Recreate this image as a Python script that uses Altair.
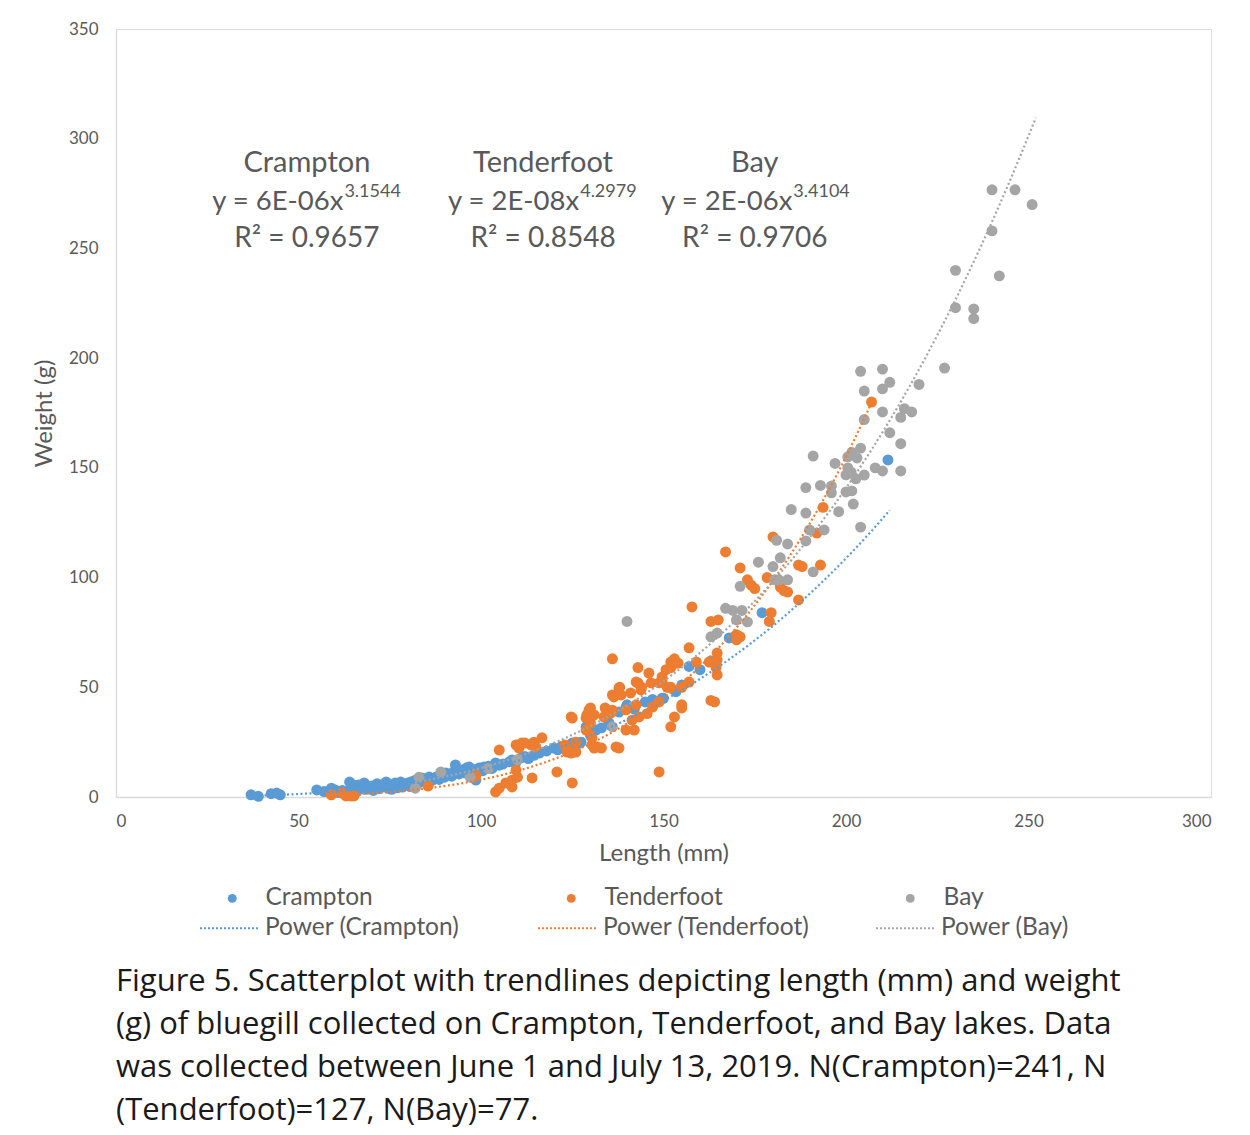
import altair as alt
import pandas as pd
import numpy as np

lakes = ["Crampton", "Tenderfoot", "Bay"]
colors = ["#5B9BD5", "#ED7D31", "#A5A5A5"]
trend_names = ["Power (Crampton)", "Power (Tenderfoot)", "Power (Bay)"]

# Crampton (length mm, weight g)
cr_len = [37, 39, 42.5, 44, 45, 55, 57, 59, 60, 61, 62, 63, 64, 64.5, 65, 65.5, 66, 66.5, 67, 68,
          68.5, 69, 70, 70.5, 71, 71.5, 72, 72.5, 73, 74, 74.5, 75, 75.5, 76, 76.5, 77, 77.5, 78,
          78.5, 79, 80, 80.5, 81, 81.5, 82, 82.5, 83, 83.8, 84.5, 85, 85.8, 86.5, 87, 87.7, 88.5,
          89, 90, 90.4, 91, 92, 92.5, 93, 93.5, 94, 94.8, 95.5, 96, 96.7, 97.5, 98, 98.6, 98.9,
          99.5, 100.5, 100.8, 101.4, 102, 103, 104, 105, 106, 107.7, 108.5, 109.5, 111, 112, 113,
          114.5, 116, 118, 120, 121, 122, 125, 127, 127.4, 128.8, 129, 130, 131.5, 133, 135, 137.8,
          139.7, 140, 142, 145, 147, 149.6, 150, 153.4, 155, 157, 160, 163, 168, 177, 211.5]
cr_wt = [1.0, 0.3, 1.5, 1.8, 1.0, 3.2, 2.5, 4.0, 3.2, 2.0, 3.0, 2.2, 6.8, 4.0, 5.5, 3.0, 2.5, 5.5, 4.0, 6.4,
         3.5, 4.6, 5.0, 3.0, 4.6, 6.0, 3.8, 5.5, 4.5, 6.8, 4.0, 5.5, 3.5, 5.0, 6.4, 4.2, 6.0, 6.8,
         4.5, 5.5, 6.4, 4.8, 7.0, 5.5, 7.7, 6.0, 6.5, 8.7, 7.0, 8.0, 9.1, 7.5, 8.5, 9.1, 8.0,
         9.5, 9.0, 10.9, 10.0, 9.5, 11.5, 14.6, 12.0, 10.5, 12.3, 11.0, 13.2, 13.7, 11.5, 12.5, 7.7, 11.4,
         13.2, 12.0, 13.7, 13.2, 14.0, 13.0, 15.5, 14.5, 15.0, 16.0, 16.9, 15.5, 17.8, 18.5, 17.5,
         19.0, 20.0, 21.0, 22.3, 21.5, 23.0, 24.6, 24.6, 25.0, 32.0, 30.5, 29.6, 30.5, 31.5, 34.0, 38.7,
         40.6, 42.0, 40.0, 43.3, 44.5, 45.0, 45.0, 48.0, 51.0, 59.5, 58.0, 62.0, 72.5, 84.0, 153.6]

# Tenderfoot
te_len = [59, 62, 63, 64.4, 65.2, 85.5, 98.6, 98, 104, 105, 106.8, 108.5, 108.5, 110, 109.6, 114, 120.8, 125,
          105, 109.6, 110.4, 111.2, 112, 113.7, 114.5, 115, 116.7, 123, 123.3, 123.6, 124.7, 126, 126, 125, 124.7,
          128.8, 129, 129.6, 130, 131, 130, 128.8, 130, 130.4, 130.4, 131.8, 133, 131,
          134, 135.6, 133.7, 137, 137.8, 136, 136, 137.8, 138.4, 138, 136.4, 136,
          139.7, 141.4, 143.3, 139.7, 142, 141, 142.5, 142.5, 143, 143, 143.8, 144, 145.5, 146, 146.6, 147,
          148.8, 148.8, 149.6, 148.8, 149.6, 150.7, 151, 152, 152, 152, 152, 153, 153, 154, 155, 155, 155,
          157, 157, 157.8, 159, 162.5, 163, 164, 164.4, 164.7, 164.7, 164.7, 163, 165, 167, 170, 171, 170,
          171, 173, 174, 175, 178.4, 179.5, 179, 180, 182, 183, 184, 187, 188, 187, 192, 193, 193.7, 207]
te_wt = [1.0, 1.8, 0.5, 0.5, 0.5, 5.0, 10.0, 9.0, 2.3, 4.0, 6.4, 4.6, 7.7, 9.0, 12.3, 8.7, 11.4, 6.4,
         21.4, 23.7, 22.3, 24.6, 24.6, 23.7, 25.0, 22.8, 27.0, 23.7, 22.8, 20.5, 20.0, 20.5, 25.0, 36.0, 36.5,
         36.0, 37.4, 39.7, 40.6, 37.4, 33.7, 30.5, 28.0, 27.0, 23.7, 22.8, 22.3, 22.3,
         40.6, 38.3, 36.5, 22.8, 22.3, 63.0, 46.5, 49.7, 46.5, 50.0, 45.6, 39.6,
         39.7, 35.0, 36.5, 30.5, 30.5, 47.4, 42.0, 52.4, 52.0, 59.0, 48.8, 50.0, 38.0, 56.5, 52.0, 41.0,
         43.3, 52.0, 54.7, 11.4, 53.0, 58.0, 50.0, 50.0, 61.5, 59.0, 32.0, 63.0, 36.5, 61.0, 42.0, 40.6, 50.0,
         52.4, 68.0, 86.6, 61.5, 61.5, 44.0, 43.3, 59.0, 55.6, 62.4, 65.6, 80.0, 80.7, 111.7, 74.0, 73.0, 71.6,
         104.4, 99.0, 96.6, 95.0, 100.0, 84.0, 80.0, 118.5, 95.7, 94.0, 93.4, 105.7, 105.0, 89.8, 120.3, 105.7, 132.0, 180.0]

# Bay
ba_len = [82, 83, 89, 97, 102, 110, 136, 140, 163, 164.7, 167, 169, 171.5, 170, 173, 171,
          176, 180, 182, 180.5, 181.6, 184, 181, 184, 189, 190, 194, 191,
          185, 189, 198, 204, 202, 189, 193, 196, 196, 200, 201.6,
          191, 197, 200.5, 203, 200.5, 201.4, 200, 205, 202.7, 204, 201.6,
          208, 210, 215, 212, 215, 205, 210, 216, 218, 215,
          204, 210, 212, 210, 205, 220, 227, 230, 230, 235, 235, 242, 240, 240, 246.3, 251]
ba_wt = [4.0, 9.0, 11.4, 9.0, 13.0, 17.0, 32.0, 80.0, 73.0, 74.7, 86.0, 85.0, 85.0, 80.7, 79.8, 96.0,
         107.0, 105.0, 109.0, 99.0, 99.0, 99.0, 117.0, 115.3, 116.7, 121.7, 121.7, 102.6,
         131.0, 129.4, 130.0, 123.0, 133.5, 141.0, 142.0, 141.7, 138.6, 139.0, 139.5,
         155.4, 152.0, 155.0, 154.5, 150.0, 148.0, 146.8, 146.7, 145.0, 159.0, 157.0,
         150.0, 148.6, 148.6, 166.0, 161.0, 172.0, 175.5, 177.0, 175.5, 173.0,
         194.0, 195.0, 189.0, 186.0, 185.0, 188.0, 195.5, 240.0, 223.0, 222.4, 218.0, 237.5, 258.0, 276.7, 276.7, 270.0]

# Power trendlines shown on the chart: y = a * x^b
trend_a = [6e-06, 2e-08, 2e-06]
trend_b = [3.1544, 4.2979, 3.4104]
trend_xmin = [37, 59, 82]
trend_xmax = [212, 207, 252]

# Annotation boxes
ann_names = ["Crampton", "Tenderfoot", "Bay"]
ann_eq = ["y = 6E-06x", "y = 2E-08x", "y = 2E-06x"]
ann_exp = ["3.1544", "4.2979", "3.4104"]
ann_r2 = ["R² = 0.9657", "R² = 0.8548", "R² = 0.9706"]
ann_center = [52.3, 117.0, 175.0]
ann_split = [62.3, 126.9, 185.3]

caption = [
    "Figure 5. Scatterplot with trendlines depicting length (mm) and weight",
    "(g) of bluegill collected on Crampton, Tenderfoot, and Bay lakes. Data",
    "was collected between  June 1 and July 13, 2019. N(Crampton)=241,  N",
    "(Tenderfoot)=127,  N(Bay)=77.",
]

FONT = "Lato"
GREY_TXT = "#595959"

pts = pd.concat([
    pd.DataFrame({"length": cr_len, "weight": cr_wt, "lake": lakes[0]}),
    pd.DataFrame({"length": te_len, "weight": te_wt, "lake": lakes[1]}),
    pd.DataFrame({"length": ba_len, "weight": ba_wt, "lake": lakes[2]}),
], ignore_index=True)

rows = []
for i in range(3):
    for xv in np.linspace(trend_xmin[i], trend_xmax[i], 150):
        rows.append({"length": float(xv), "a": trend_a[i], "b": trend_b[i], "trend": trend_names[i]})
trend_df = pd.DataFrame(rows)

ann = pd.DataFrame({"name": ann_names, "eq": ann_eq, "exp": ann_exp, "r2": ann_r2,
                    "cx": ann_center, "sx": ann_split})

xscale = alt.Scale(domain=[0, 300], nice=False, zero=False)
yscale = alt.Scale(domain=[0, 350], nice=False)

xaxis = alt.Axis(values=list(range(0, 301, 50)), title="Length (mm)", grid=False, ticks=False,
                 labelFont=FONT, labelFontSize=17, labelColor=GREY_TXT, labelPadding=16,
                 titleFont=FONT, titleFontSize=24, titleFontWeight="normal", titleColor=GREY_TXT,
                 titlePadding=12, domainColor="#D9D9D9", domainWidth=1.3)
yaxis = alt.Axis(values=list(range(0, 351, 50)), title="Weight (g)", grid=False, ticks=False,
                 labelFont=FONT, labelFontSize=17, labelColor=GREY_TXT, labelPadding=18,
                 titleFont=FONT, titleFontSize=24, titleFontWeight="normal", titleColor=GREY_TXT,
                 titlePadding=12, domainColor="#D9D9D9", domainWidth=1.3)

points = alt.Chart(pts).mark_circle(size=120, opacity=1).encode(
    x=alt.X("length:Q", scale=xscale, axis=xaxis),
    y=alt.Y("weight:Q", scale=yscale, axis=yaxis),
    color=alt.Color("lake:N", scale=alt.Scale(domain=lakes, range=colors),
                    legend=alt.Legend(title=None, orient="none", legendX=104, legendY=857,
                                      direction="horizontal", columns=3, gridAlign="all",
                                      symbolType="circle", symbolSize=80, symbolStrokeWidth=0,
                                      labelOffset=21, columnPadding=175, padding=0, labelLimit=500,
                                      labelFont=FONT, labelFontSize=24.5, labelColor=GREY_TXT)),
)

lines = alt.Chart(trend_df).transform_calculate(
    weight="datum.a * pow(datum.length, datum.b)"
).mark_line(strokeDash=[2, 2.5], strokeWidth=2.2).encode(
    x=alt.X("length:Q", scale=xscale),
    y=alt.Y("weight:Q", scale=yscale),
    stroke=alt.Stroke("trend:N", scale=alt.Scale(domain=trend_names, range=colors),
                      legend=alt.Legend(title=None, orient="none", legendX=83, legendY=869,
                                        direction="horizontal", columns=3, gridAlign="all",
                                        symbolType="stroke", symbolSize=3364, symbolStrokeWidth=2,
                                        symbolDash=[2, 2], labelOffset=6, columnPadding=62, padding=0,
                                        labelLimit=500,
                                        labelFont=FONT, labelFontSize=24.5, labelColor=GREY_TXT)),
)

base_ann = alt.Chart(ann)
t_name = base_ann.mark_text(font=FONT, fontSize=29, color=GREY_TXT, align="center", baseline="middle").encode(
    x=alt.X("cx:Q", scale=xscale), y=alt.Y("y:Q", scale=yscale), text="name:N"
).transform_calculate(y="289")
t_eq = base_ann.mark_text(font=FONT, fontSize=27.5, color=GREY_TXT, align="right", baseline="middle").encode(
    x=alt.X("sx:Q", scale=xscale), y=alt.Y("y:Q", scale=yscale), text="eq:N"
).transform_calculate(y="271")
t_exp = base_ann.mark_text(font=FONT, fontSize=18, color=GREY_TXT, align="left", baseline="middle", dx=1).encode(
    x=alt.X("sx:Q", scale=xscale), y=alt.Y("y:Q", scale=yscale), text="exp:N"
).transform_calculate(y="275.5")
t_r2 = base_ann.mark_text(font=FONT, fontSize=28, color=GREY_TXT, align="center", baseline="middle").encode(
    x=alt.X("cx:Q", scale=xscale), y=alt.Y("y:Q", scale=yscale), text="r2:N"
).transform_calculate(y="254.5")

chart = alt.layer(points, lines, t_name, t_eq, t_exp, t_r2).resolve_scale(
    color="independent", stroke="independent"
).properties(
    width=1095, height=768,
    padding={"left": 24, "top": 12, "right": 5, "bottom": 5},
    title=alt.TitleParams(text=caption, orient="bottom", anchor="start", frame="group",
                          font="Open Sans", fontSize=31,
                          fontWeight="normal", color="#1a1a1a", lineHeight=43, offset=27),
).configure_view(strokeWidth=0).configure(background="white")

chart.save("out.html", embed_options={"renderer": "svg", "actions": False})
